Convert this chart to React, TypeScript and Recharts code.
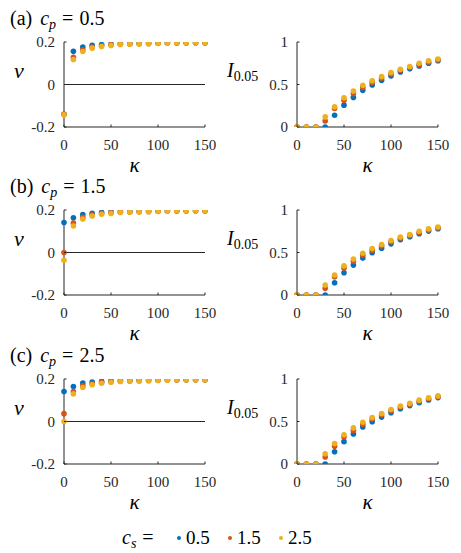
import React from 'react';
import { ScatterChart, Scatter, XAxis, YAxis, ReferenceLine } from 'recharts';

// Coupling strength values on the horizontal axis
const kappa = [0, 10, 20, 30, 40, 50, 60, 70, 80, 90, 100, 110, 120, 130, 140, 150];

// Legend / series levels of c_s and panel levels of c_p
const csLevels = ['0.5', '1.5', '2.5'];
const cpLevels = ['0.5', '1.5', '2.5'];
const panelTags = ['(a)', '(b)', '(c)'];

const vTicks = [-0.2, 0, 0.2];
const iTicks = [0, 0.5, 1];
const kTicks = [0, 50, 100, 150];

// Velocity v, c_p = 0.5
const vA_cs05 = [-0.14, 0.156, 0.176, 0.184, 0.188, 0.19, 0.192, 0.193, 0.194, 0.195, 0.195, 0.196, 0.196, 0.196, 0.197, 0.197];
const vA_cs15 = [-0.14, 0.128, 0.162, 0.176, 0.183, 0.187, 0.19, 0.191, 0.192, 0.193, 0.194, 0.195, 0.195, 0.196, 0.196, 0.196];
const vA_cs25 = [-0.143, 0.118, 0.155, 0.171, 0.179, 0.184, 0.188, 0.19, 0.191, 0.192, 0.193, 0.194, 0.195, 0.195, 0.196, 0.196];

// Velocity v, c_p = 1.5
const vB_cs05 = [0.141, 0.163, 0.179, 0.185, 0.189, 0.191, 0.192, 0.193, 0.194, 0.195, 0.195, 0.196, 0.196, 0.196, 0.197, 0.197];
const vB_cs15 = [0.0, 0.139, 0.166, 0.177, 0.184, 0.187, 0.19, 0.191, 0.192, 0.193, 0.194, 0.195, 0.195, 0.196, 0.196, 0.196];
const vB_cs25 = [-0.037, 0.125, 0.158, 0.172, 0.18, 0.184, 0.188, 0.19, 0.191, 0.192, 0.193, 0.194, 0.195, 0.195, 0.196, 0.196];

// Velocity v, c_p = 2.5
const vC_cs05 = [0.141, 0.165, 0.181, 0.186, 0.189, 0.191, 0.192, 0.193, 0.194, 0.195, 0.195, 0.196, 0.196, 0.196, 0.197, 0.197];
const vC_cs15 = [0.037, 0.141, 0.168, 0.178, 0.184, 0.187, 0.19, 0.191, 0.192, 0.193, 0.194, 0.195, 0.195, 0.196, 0.196, 0.196];
const vC_cs25 = [0.0, 0.13, 0.16, 0.173, 0.18, 0.185, 0.188, 0.19, 0.191, 0.192, 0.193, 0.194, 0.195, 0.195, 0.196, 0.196];

// Index I_0.05, c_p = 0.5
const iA_cs05 = [0, 0, 0, 0, 0.138, 0.257, 0.348, 0.431, 0.494, 0.549, 0.6, 0.648, 0.684, 0.719, 0.751, 0.779];
const iA_cs15 = [0, 0, 0, 0.071, 0.217, 0.316, 0.395, 0.466, 0.525, 0.577, 0.625, 0.668, 0.7, 0.735, 0.765, 0.79];
const iA_cs25 = [0, 0, 0, 0.119, 0.237, 0.344, 0.423, 0.49, 0.545, 0.593, 0.64, 0.68, 0.711, 0.75, 0.779, 0.8];

// Index I_0.05, c_p = 1.5
const iB_cs05 = [0, 0, 0, 0, 0.145, 0.262, 0.352, 0.434, 0.497, 0.551, 0.602, 0.65, 0.686, 0.72, 0.752, 0.78];
const iB_cs15 = [0, 0, 0, 0.078, 0.215, 0.318, 0.397, 0.468, 0.527, 0.578, 0.626, 0.669, 0.701, 0.736, 0.766, 0.79];
const iB_cs25 = [0, 0, 0, 0.118, 0.235, 0.343, 0.424, 0.491, 0.546, 0.594, 0.641, 0.681, 0.712, 0.75, 0.779, 0.8];

// Index I_0.05, c_p = 2.5
const iC_cs05 = [0, 0, 0, 0, 0.145, 0.263, 0.353, 0.435, 0.498, 0.552, 0.603, 0.651, 0.687, 0.721, 0.753, 0.781];
const iC_cs15 = [0, 0, 0, 0.082, 0.208, 0.318, 0.398, 0.469, 0.528, 0.579, 0.627, 0.67, 0.702, 0.737, 0.767, 0.791];
const iC_cs25 = [0, 0, 0, 0.12, 0.24, 0.345, 0.425, 0.492, 0.547, 0.595, 0.642, 0.682, 0.713, 0.751, 0.78, 0.801];

const vRows = [
  [vA_cs05, vA_cs15, vA_cs25],
  [vB_cs05, vB_cs15, vB_cs25],
  [vC_cs05, vC_cs15, vC_cs25],
];
const iRows = [
  [iA_cs05, iA_cs15, iA_cs25],
  [iB_cs05, iB_cs15, iB_cs25],
  [iC_cs05, iC_cs15, iC_cs25],
];

const COLORS = ['#0072BD', '#D95319', '#EDB120'];
const AXIS = '#262626';
const FONT = 'Liberation Serif';

// Layout
const ROW_TOPS = [42, 210, 379];
const PLOT_H = 85;
const TOP_PAD = 10;
const X_AXIS_H = 60;
const CHART_H = TOP_PAD + PLOT_H + X_AXIS_H;
const X_GAP = 12;
const Y_GAP = 9;
const TICK_LEN = 2.5;
const LEFT_PLOT_CX = 134.5;
const RIGHT_PLOT_CX = 367.5;

const toPoints = (vals: number[]) => kappa.map((k, i) => ({ k, y: vals[i] }));

const dot = (color: string) => (p: any) => (
  <circle cx={p.cx} cy={p.cy} r={2.8} fill={color} stroke="none" />
);

const XTick = (props: any) => {
  const { x, y, payload } = props;
  const axisY = y - X_GAP;
  return (
    <g>
      <line x1={x} x2={x} y1={axisY} y2={axisY - TICK_LEN} stroke={AXIS} strokeWidth={1} />
      <text x={x} y={y} dy="0.71em" textAnchor="middle" fontFamily={FONT} fontSize={15} fill={AXIS}>
        {payload.value}
      </text>
    </g>
  );
};

const YTick = (props: any) => {
  const { x, y, payload } = props;
  const axisX = x + Y_GAP;
  return (
    <g>
      <line x1={axisX} x2={axisX + TICK_LEN} y1={y} y2={y} stroke={AXIS} strokeWidth={1} />
      <text x={x} y={y} dy="0.35em" textAnchor="end" fontFamily={FONT} fontSize={15} fill={AXIS}>
        {payload.value}
      </text>
    </g>
  );
};

// HTML text placed by its baseline
type HTextProps = {
  x: number;
  baseline: number;
  size: number;
  italic?: boolean;
  center?: boolean;
  children: React.ReactNode;
};

const HText = ({ x, baseline, size, italic, center, children }: HTextProps) => (
  <div
    style={{
      position: 'absolute',
      left: center ? x - 60 : x,
      width: center ? 120 : undefined,
      textAlign: center ? 'center' : 'left',
      top: baseline - 0.8375 * size,
      fontFamily: FONT,
      fontSize: size,
      lineHeight: `${size}px`,
      fontStyle: italic ? 'italic' : 'normal',
      whiteSpace: 'nowrap',
      color: '#000',
    }}
  >
    {children}
  </div>
);

const Sub = ({ children, italic }: { children: React.ReactNode; italic?: boolean }) => (
  <span style={{ fontSize: 14, position: 'relative', top: 4, fontStyle: italic ? 'italic' : 'normal' }}>
    {children}
  </span>
);

type PanelProps = {
  left: number;
  top: number;
  width: number;
  yWidth: number;
  rightPad: number;
  domain: [number, number];
  ticks: number[];
  series: number[][];
  kind: 'v' | 'i';
};

const Panel = ({ left, top, width, yWidth, rightPad, domain, ticks, series, kind }: PanelProps) => (
  <div style={{ position: 'absolute', left, top: top - TOP_PAD }}>
    <ScatterChart
      width={width}
      height={CHART_H}
      margin={{ top: TOP_PAD, right: rightPad, bottom: 0, left: 0 }}
    >
      <XAxis
        type="number"
        dataKey="k"
        domain={[0, 150]}
        ticks={kTicks}
        height={X_AXIS_H}
        tickSize={0}
        tickMargin={X_GAP}
        tick={<XTick />}
        axisLine={{ stroke: AXIS, strokeWidth: 1 }}
        tickLine={false}
      />
      <YAxis
        type="number"
        dataKey="y"
        domain={domain}
        ticks={ticks}
        width={yWidth}
        tickSize={0}
        tickMargin={Y_GAP}
        tick={<YTick />}
        axisLine={{ stroke: AXIS, strokeWidth: 1 }}
        tickLine={false}
        allowDataOverflow
      />
      {kind === 'v' && <ReferenceLine y={0} stroke={AXIS} strokeWidth={1} />}
      {series.map((vals, s) => (
        <Scatter
          key={csLevels[s]}
          name={csLevels[s]}
          data={toPoints(vals)}
          fill={COLORS[s]}
          shape={dot(COLORS[s])}
          isAnimationActive={false}
        />
      ))}
    </ScatterChart>
  </div>
);

const TITLE_BASELINES = [25, 193, 362];

export default function App() {
  return (
    <div
      style={{
        position: 'absolute',
        left: 0,
        top: 0,
        width: 461,
        height: 553,
        background: '#fff',
        overflow: 'hidden',
        fontFamily: FONT,
      }}
    >
      {ROW_TOPS.map((top, r) => (
        <React.Fragment key={r}>
          <Panel
            left={0}
            top={top}
            width={230}
            yWidth={64}
            rightPad={25}
            domain={[-0.2, 0.2]}
            ticks={vTicks}
            series={vRows[r]}
            kind="v"
          />
          <Panel
            left={222}
            top={top}
            width={239}
            yWidth={75}
            rightPad={23}
            domain={[0, 1]}
            ticks={iTicks}
            series={iRows[r]}
            kind="i"
          />
          {/* panel title */}
          <HText x={10} baseline={TITLE_BASELINES[r]} size={20}>
            {panelTags[r]}
            <span style={{ fontStyle: 'italic', marginLeft: 8 }}>c</span>
            <Sub italic>p</Sub>
            <span style={{ marginLeft: 6, marginRight: 6 }}>=</span>
            {cpLevels[r]}
          </HText>
          {/* axis titles */}
          <HText x={19} baseline={top + 36} size={22} italic center>
            v
          </HText>
          <HText x={227} baseline={top + 35} size={20}>
            <span style={{ fontStyle: 'italic' }}>I</span>
            <Sub>0.05</Sub>
          </HText>
          <HText x={LEFT_PLOT_CX} baseline={top + PLOT_H + 46} size={21} italic center>
            κ
          </HText>
          <HText x={RIGHT_PLOT_CX} baseline={top + PLOT_H + 46} size={21} italic center>
            κ
          </HText>
        </React.Fragment>
      ))}
      {/* shared legend */}
      <HText x={122} baseline={544} size={20}>
        <span style={{ fontStyle: 'italic' }}>c</span>
        <Sub italic>s</Sub>
        <span style={{ marginLeft: 6 }}>=</span>
      </HText>
      <svg width={461} height={553} style={{ position: 'absolute', left: 0, top: 0, pointerEvents: 'none' }}>
        {csLevels.map((lab, s) => (
          <circle key={lab} cx={179 + s * 51} cy={538} r={2} fill={COLORS[s]} />
        ))}
      </svg>
      {csLevels.map((lab, s) => (
        <HText key={lab} x={186 + s * 51} baseline={544} size={19}>
          {lab}
        </HText>
      ))}
    </div>
  );
}
